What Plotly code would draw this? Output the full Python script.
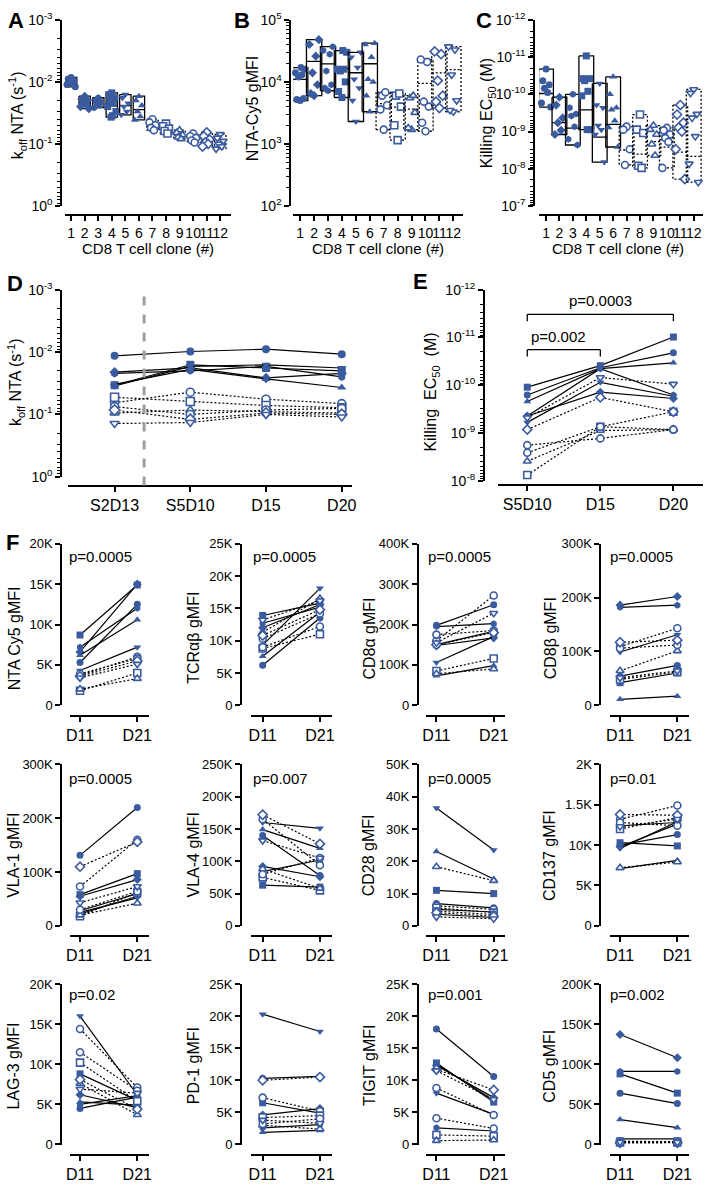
import plotly.graph_objects as go

W, H = 708, 1185
BLUE = "#3b5b9f"
FONT = "Liberation Sans, Arial, sans-serif"
DOT = "2px,2px"

# ---- shared clone styling (clones 1-6 filled, 7-12 open) ----
clones = list(range(1, 13))
symbols = ["circle", "diamond", "hexagon", "square", "triangle-down", "triangle-up",
           "circle", "square", "triangle-up", "circle", "diamond", "triangle-down"]
filled = [True] * 6 + [False] * 6

# ---- A: koff NTA (s^-1) per clone ----
koff_clone = [
    [0.0085, 0.009, 0.0095, 0.01, 0.0105, 0.011, 0.012, 0.0092],
    [0.017, 0.019, 0.02, 0.022, 0.023, 0.025, 0.027],
    [0.018, 0.02, 0.021, 0.022, 0.024, 0.026],
    [0.015, 0.016, 0.018, 0.02, 0.022, 0.025, 0.03, 0.035, 0.037],
    [0.016, 0.018, 0.022, 0.025, 0.03, 0.034],
    [0.017, 0.02, 0.024, 0.03, 0.036, 0.041],
    [0.04, 0.045, 0.05, 0.055, 0.06],
    [0.047, 0.052, 0.057, 0.062, 0.068],
    [0.06, 0.066, 0.072, 0.078, 0.083],
    [0.068, 0.075, 0.08, 0.088, 0.095],
    [0.065, 0.075, 0.085, 0.095, 0.1, 0.11],
    [0.07, 0.08, 0.09, 0.1, 0.11, 0.12],
]

# ---- B: NTA-Cy5 gMFI per clone ----
nta_clone = [
    [5000, 5200, 5400, 12000, 13000, 14000, 16000, 17000],
    [6000, 6500, 9000, 14000, 26000, 40000, 48000],
    [7200, 8000, 9000, 15000, 28000, 32000, 37000],
    [5600, 7000, 10000, 15000, 16000, 16000, 30000, 32000],
    [2300, 5000, 8000, 11000, 17000, 25000, 30000],
    [3300, 6000, 10000, 11000, 25000, 40000, 42000],
    [1700, 3600, 4200, 6000, 6800],
    [1150, 2000, 4000, 6000, 6500],
    [1700, 1800, 3200, 5500, 6000],
    [1600, 2200, 4000, 4800, 21000, 23000],
    [3800, 4800, 6000, 10500, 28000, 31000],
    [3300, 3500, 5000, 13000, 33000, 37000],
]

# ---- C: killing EC50 (M) per clone ----
ec50_clone = [
    [2.1e-11, 4.3e-11, 5.5e-11, 6.9e-11, 8.9e-11, 1.7e-10, 2.2e-10],
    [1.2e-10, 1.95e-10, 4.3e-10, 5.8e-10, 9.3e-10, 1.2e-9],
    [1e-10, 2.3e-10, 3.4e-10, 3.8e-10, 7.4e-10, 1.6e-9, 2.3e-9],
    [9.3e-12, 3.8e-11, 3.8e-11, 4.3e-11, 8.3e-11, 1.1e-10, 8.9e-10, 8.9e-10],
    [5.1e-11, 1.95e-10, 2.3e-10, 6.9e-10, 8.9e-10, 1.2e-9, 6.6e-9],
    [3.4e-11, 1e-10, 2.3e-10, 2.6e-10, 5.1e-10, 7.8e-10, 2.6e-9],
    [7.4e-10, 8.9e-10, 3e-9, 7.9e-9],
    [3.5e-10, 8.9e-10, 1.1e-9, 8.3e-9, 9.5e-9],
    [6.9e-10, 8.9e-10, 1.2e-9, 2.2e-9, 4.4e-9],
    [8e-10, 9.3e-10, 1.2e-9, 1.5e-9, 1.9e-9, 9.5e-9],
    [1.95e-10, 3.5e-10, 5.8e-10, 7.8e-10, 1e-9, 3e-9, 1.9e-8],
    [7.4e-11, 9.3e-11, 3.4e-10, 4.3e-10, 1.35e-9, 7.4e-9, 2.3e-8],
]

# ---- D: koff over time ----
d_days = ["S2D13", "S5D10", "D15", "D20"]
d_koff = [
    [0.0115, 0.0098, 0.009, 0.0108],
    [0.021, 0.018, 0.026, 0.022],
    [0.022, 0.02, 0.017, 0.025],
    [0.034, 0.016, 0.018, 0.02],
    [0.035, 0.017, 0.016, 0.018],
    [0.033, 0.019, 0.027, 0.037],
    [0.065, 0.044, 0.057, 0.067],
    [0.053, 0.062, 0.072, 0.078],
    [0.095, 0.085, 0.09, 0.095],
    [0.075, 0.1, 0.085, 0.08],
    [0.085, 0.12, 0.095, 0.1],
    [0.14, 0.135, 0.1, 0.11],
]

# ---- E: killing EC50 over time ----
e_days = ["S5D10", "D15", "D20"]
e_ec50 = [
    [1.6e-10, 4.3e-11, 2.1e-11],
    [4.4e-10, 1.4e-10, 1.9e-10],
    [4.4e-10, 4.5e-11, 1.6e-10],
    [1.1e-10, 3.9e-11, 9.8e-12],
    [6e-10, 8.7e-11, 1.7e-10],
    [2.2e-10, 4.5e-11, 3.4e-11],
    [1.8e-9, 1.3e-9, 8.5e-10],
    [7.6e-9, 7.4e-10, 3.6e-10],
    [3.9e-9, 8.9e-10, 8.5e-10],
    [2.6e-9, 7.4e-10, 8.5e-10],
    [8.5e-10, 1.8e-10, 3.6e-10],
    [4.8e-10, 6.9e-11, 9.5e-11],
]
e_pvals = ["p=0.0003", "p=0.002"]

# ---- F: surface markers D11 vs D21 (one [D11, D21] pair per clone) ----
f_days = ["D11", "D21"]
f_nta_cy5 = [[5300, 12500], [6600, 15000], [7200, 12000], [8700, 14900], [4300, 7200], [6200, 10600],
             [3700, 6000], [1800, 4000], [2000, 3300], [3900, 5800], [3600, 5500], [3400, 5100]]
f_tcr = [[6200, 13500], [12000, 15600], [12700, 15200], [13900, 15800], [9300, 18100], [7600, 14400],
         [10300, 14200], [8800, 11000], [11300, 16500], [9000, 12200], [10800, 14800], [13200, 16200]]
f_cd8a = [[198000, 249000], [148000, 167000], [195000, 202000], [150000, 183000], [106000, 170000], [73000, 98000],
          [160000, 272000], [85000, 116000], [78000, 90000], [175000, 185000], [150000, 180000], [155000, 228000]]
f_cd8b = [[54000, 74000], [186000, 202000], [182000, 186000], [42000, 60000], [99000, 131000], [11000, 17000],
          [109000, 143000], [48000, 62000], [64000, 101000], [106000, 112000], [117000, 121000], [51000, 64000]]
f_vla1 = [[131000, 220000], [55000, 86000], [28000, 60000], [58000, 97000], [25000, 52000], [22000, 55000],
          [73000, 160000], [18000, 62000], [20000, 42000], [30000, 64000], [110000, 156000], [43000, 73000]]
f_vla4 = [[140000, 78000], [92000, 76000], [84000, 102000], [63000, 60000], [160000, 151000], [149000, 120000],
          [165000, 94000], [75000, 55000], [88000, 58000], [80000, 105000], [172000, 127000], [132000, 105000]]
f_cd28 = [[6900, 5600], [5100, 4300], [3600, 2600], [11000, 10000], [36500, 23500], [23000, 14500],
          [6200, 5100], [5600, 4100], [18300, 14000], [4600, 3500], [4100, 3000], [2800, 2200]]
f_cd137 = [[1000, 1130], [980, 1260], [1240, 1280], [1030, 990], [960, 1290], [710, 810],
           [1320, 1490], [1200, 1340], [720, 790], [1280, 1240], [1380, 1370], [1230, 1320]]
f_lag3 = [[4500, 5900], [6200, 4600], [5000, 6100], [8800, 5500], [16000, 6200], [5300, 4900],
          [14400, 7100], [10200, 5400], [7600, 3700], [11500, 6700], [8100, 4400], [6900, 6400]]
f_pd1 = [[10300, 10600], [4600, 5600], [2600, 3100], [6500, 4900], [20300, 17600], [1900, 2200],
         [7300, 5200], [4200, 4500], [3000, 2400], [3200, 4000], [10000, 10500], [3800, 3300]]
f_tigit = [[18000, 10600], [12300, 7300], [2600, 2100], [12700, 6600], [8000, 4700], [12500, 6900],
           [8800, 4600], [1500, 1300], [600, 700], [4100, 2500], [11700, 8500], [11500, 7000]]
f_cd5 = [[64000, 51000], [137000, 108000], [91000, 91000], [88000, 64000], [7000, 7000], [31000, 21000],
         [3000, 3000], [2500, 2500], [3500, 3200], [4000, 3500], [2000, 2200], [3000, 2800]]

f_titles = ["NTA Cy5 gMFI", "TCRαβ gMFI", "CD8α gMFI", "CD8β gMFI",
            "VLA-1 gMFI", "VLA-4 gMFI", "CD28 gMFI", "CD137 gMFI",
            "LAG-3 gMFI", "PD-1 gMFI", "TIGIT gMFI", "CD5 gMFI"]
f_pvals = ["p=0.0005", "p=0.0005", "p=0.0005", "p=0.0005",
           "p=0.0005", "p=0.007", "p=0.0005", "p=0.01",
           "p=0.02", "", "p=0.001", "p=0.002"]
f_data = [f_nta_cy5, f_tcr, f_cd8a, f_cd8b, f_vla1, f_vla4, f_cd28, f_cd137,
          f_lag3, f_pd1, f_tigit, f_cd5]
f_tickvals = [
    [0, 5000, 10000, 15000, 20000],
    [0, 5000, 10000, 15000, 20000, 25000],
    [0, 100000, 200000, 300000, 400000],
    [0, 100000, 200000, 300000],
    [0, 100000, 200000, 300000],
    [0, 50000, 100000, 150000, 200000, 250000],
    [0, 10000, 20000, 30000, 40000, 50000],
    [0, 500, 1000, 1500, 2000],
    [0, 5000, 10000, 15000, 20000],
    [0, 5000, 10000, 15000, 20000, 25000],
    [0, 5000, 10000, 15000, 20000, 25000],
    [0, 50000, 100000, 150000, 200000],
]
cd137_ticktext = ["0", "5K", "10K", "1.5K", "2K"]

fig = go.Figure()
layout = {}
annotations = []
shapes = []


def marker_style(sym, is_filled, size=7):
    if is_filled:
        return dict(symbol=sym, size=size, color=BLUE, line=dict(width=0))
    return dict(symbol=sym, size=size, color="white", line=dict(color=BLUE, width=1.6))


def log_ticks(lo, hi):
    major = [10.0 ** e for e in range(lo, hi + 1)]
    text = ["10<sup>%d</sup>" % e for e in range(lo, hi + 1)]
    minor = [k * 10.0 ** e for e in range(lo, hi) for k in range(2, 10)]
    return major, text, minor


def add_axes(n, yx, yt, yb, xl, xr, xy, c0_px, unit_px, c0_val, xticks, xtext, xfont):
    sfx = "" if n == 1 else str(n)
    xrange = [c0_val - (c0_px - xl) / unit_px, c0_val + (xr - c0_px) / unit_px]
    layout["xaxis" + sfx] = dict(
        domain=[xl / W, xr / W], anchor="free", position=1 - xy / H, range=xrange,
        tickmode="array", tickvals=xticks, ticktext=xtext, tickfont=dict(size=xfont),
        tickangle=0, showline=True, linecolor="black", linewidth=1.8, ticks="outside",
        ticklen=5, tickwidth=1.5, tickcolor="black", showgrid=False, zeroline=False,
        fixedrange=True,
    )
    layout["yaxis" + sfx] = dict(
        domain=[1 - yb / H, 1 - yt / H], anchor="free", position=yx / W,
        showline=True, linecolor="black", linewidth=1.8, ticks="outside", ticklen=5,
        tickwidth=1.5, tickcolor="black", showgrid=False, zeroline=False,
        tickfont=dict(size=13), fixedrange=True,
    )
    return "x" + sfx, "y" + sfx


def set_log_y(yname, lo, hi, reverse):
    major, text, minor = log_ticks(lo, hi)
    key = "yaxis" + yname[1:]
    layout[key].update(
        type="log", range=[hi, lo] if reverse else [lo, hi],
        tickmode="array", tickvals=major, ticktext=text, tickfont=dict(size=14),
        minor=dict(tickmode="array", tickvals=minor, ticks="outside", ticklen=3,
                   tickwidth=1, tickcolor="black", showgrid=False),
    )


def ytitle(text, x, y, size=16):
    annotations.append(dict(text=text, x=x / W, y=1 - y / H, xref="paper", yref="paper",
                            textangle=-90, showarrow=False, font=dict(size=size),
                            xanchor="center", yanchor="middle"))


def plain_text(text, x, y, size=15, anchor="center", bold=False, xref="paper"):
    annotations.append(dict(text="<b>%s</b>" % text if bold else text,
                            x=x / W if xref == "paper" else x, y=1 - y / H,
                            xref=xref, yref="paper", showarrow=False, font=dict(size=size),
                            xanchor=anchor, yanchor="middle"))


# ---------------- A, B, C ----------------
JITTER = [0.0, -0.24, 0.24, -0.12, 0.12, -0.34, 0.34, 0.06, -0.06]
abc = [
    # n, values, ylog lo, hi, reverse, yaxis x, xaxis left/right, clone1 px, step px, box half, jitter scale
    (1, koff_clone, -3, 0, True, 58, 62, 230, 68, 13.73, 0.42, 0.9),
    (2, nta_clone, 2, 5, False, 290, 293, 465, 300, 14.1, 0.55, 1.0),
    (3, ec50_clone, -12, -7, True, 537, 542, 708, 549, 13.6, 0.55, 1.0),
]
for n, values, lo, hi, rev, yx, xl, xr, c0, step, half, jscale in abc:
    xa, ya = add_axes(n, yx, 10, 199, xl, xr, 208, c0, step, 1,
                      clones, [str(c) for c in clones], 14)
    set_log_y(ya, lo, hi, rev)
    for c, vals, sym, fl in zip(clones, values, symbols, filled):
        lo_v, hi_v = min(vals), max(vals)
        mean = sum(vals) / len(vals)
        x0, x1 = c - half, c + half
        fig.add_trace(go.Scatter(
            x=[x0, x1, x1, x0, x0, None, x0, x1],
            y=[lo_v, lo_v, hi_v, hi_v, lo_v, None, mean, mean],
            mode="lines", line=dict(color="black", width=1.3, dash="solid" if fl else DOT),
            xaxis=xa, yaxis=ya, hoverinfo="skip", showlegend=False))
        xs = [c + JITTER[k % len(JITTER)] * jscale for k in range(len(vals))]
        fig.add_trace(go.Scatter(
            x=xs, y=vals, mode="markers", marker=marker_style(sym, fl, 7),
            xaxis=xa, yaxis=ya, cliponaxis=False, showlegend=False))

for cx in (146, 379, 622):
    plain_text("CD8 T cell clone (#)", cx, 242, size=15)
ytitle("k<sub>off</sub> NTA (s<sup>-1</sup>)", 14, 107)
ytitle("NTA-Cy5 gMFI", 252, 100)
ytitle("Killing EC<sub>50</sub> (M)", 490, 105)

# ---------------- D ----------------
xa, ya = add_axes(4, 58, 284, 474, 65, 352, 483, 112, 76.7, 0,
                  list(range(len(d_days))), d_days, 16)
set_log_y(ya, -3, 0, True)
shapes.append(dict(type="line", xref=xa, yref=ya + " domain", x0=0.39, x1=0.39,
                   y0=-0.047, y1=1.0, line=dict(color="#a0a0a0", width=3, dash="dash")))
for vals, sym, fl in zip(d_koff, symbols, filled):
    fig.add_trace(go.Scatter(
        x=list(range(len(d_days))), y=vals, mode="lines+markers",
        line=dict(color="black", width=1.2, dash="solid" if fl else DOT),
        marker=marker_style(sym, fl, 8), xaxis=xa, yaxis=ya, cliponaxis=False, showlegend=False))
ytitle("k<sub>off</sub> NTA (s<sup>-1</sup>)", 12, 378)

# ---------------- E ----------------
xa, ya = add_axes(5, 486, 284, 478, 500, 708, 482, 530, 74, 0,
                  list(range(len(e_days))), e_days, 16)
set_log_y(ya, -12, -8, True)
for vals, sym, fl in zip(e_ec50, symbols, filled):
    fig.add_trace(go.Scatter(
        x=list(range(len(e_days))), y=vals, mode="lines+markers",
        line=dict(color="black", width=1.2, dash="solid" if fl else DOT),
        marker=marker_style(sym, fl, 7), xaxis=xa, yaxis=ya, cliponaxis=False, showlegend=False))
# significance brackets (S5D10 -> D20, S5D10 -> D15)
for x_end, y_bar, y_tick in ((2, 0.871, 0.835), (1, 0.686, 0.650)):
    for seg in ((0, y_tick, 0, y_bar), (0, y_bar, x_end, y_bar), (x_end, y_bar, x_end, y_tick)):
        shapes.append(dict(type="line", xref=xa, yref=ya + " domain", x0=seg[0], y0=seg[1],
                           x1=seg[2], y1=seg[3], line=dict(color="black", width=1.3)))
plain_text(e_pvals[0], 1.0, 295, size=15, xref=xa)
plain_text(e_pvals[1], 0.43, 332, size=15, xref=xa)
ytitle("Killing  EC<sub>50</sub>  (M)", 433, 388)

# ---------------- F ----------------
rows = [(542, 706, 717, 555, 638), (766, 930, 940, 780, 858), (989, 1152, 1163, 1000, 1072)]
cols = [(58, 67, 147, 77, 64, 10), (240, 250, 332, 262, 250, 192),
        (419, 427, 507, 438, 427, 370), (604, 614, 694, 624, 612, 553)]
for i, (title, pval, data, tv) in enumerate(zip(f_titles, f_pvals, f_data, f_tickvals)):
    yt, yb, xy, py, ty = rows[i // 4]
    yx, xl, xr, d11, px_, tx = cols[i % 4]
    xa, ya = add_axes(6 + i, yx, yt, yb, xl, xr, xy, d11, 58, 0, [0, 1], f_days, 16)
    ttext = cd137_ticktext if title.startswith("CD137") else \
        ["0" if v == 0 else "%gK" % (v / 1000) for v in tv]
    layout["yaxis" + ya[1:]].update(range=[0, tv[-1]], tickmode="array", tickvals=tv, ticktext=ttext)
    for pair, sym, fl in zip(data, symbols, filled):
        fig.add_trace(go.Scatter(
            x=[0, 1], y=pair, mode="lines+markers",
            line=dict(color="black", width=1.2, dash="solid" if fl else DOT),
            marker=marker_style(sym, fl, 7), xaxis=xa, yaxis=ya, cliponaxis=False, showlegend=False))
    if pval:
        plain_text(pval, px_, py, size=15, anchor="left")
    ytitle(title, tx, ty)

# panel letters
for letter, x, y in (("A", 12, 11), ("B", 241, 11), ("C", 486, 11), ("D", 11, 278),
                     ("E", 422, 276), ("F", 9, 541)):
    plain_text(letter, x, y, size=22, bold=True)

fig.update_layout(
    **layout,
    annotations=annotations,
    shapes=shapes,
    width=W, height=H,
    margin=dict(l=0, r=0, t=0, b=0),
    paper_bgcolor="white",
    plot_bgcolor="white",
    font=dict(family=FONT, color="black"),
    showlegend=False,
)

# drop the default page margin so the figure fills the window exactly
fig.write_html("out.html", config={"displayModeBar": False},
               post_script="document.body.style.margin='0';"
                           "document.documentElement.style.overflow='hidden';")
